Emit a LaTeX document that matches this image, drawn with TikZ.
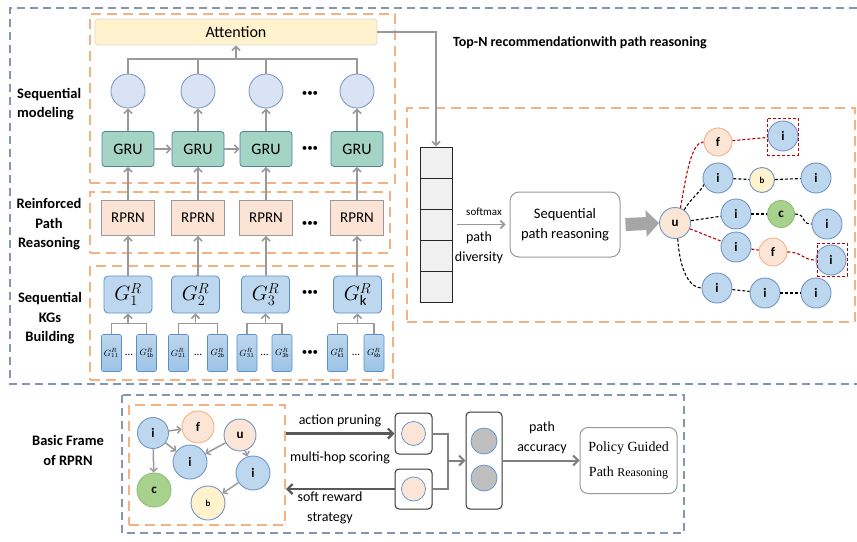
\documentclass[tikz,border=0pt]{standalone}
\usepackage{fontspec}
\setmainfont{Carlito}
\newfontfamily\tmsfont{Liberation Serif}
\usetikzlibrary{arrows.meta,calc}

\definecolor{frameblue}{HTML}{8497B0}
\definecolor{frameorange}{HTML}{F4B183}
\definecolor{linkgray}{HTML}{999999}
\definecolor{heavygray}{HTML}{595959}
\definecolor{midgray}{HTML}{7F7F7F}
\definecolor{attfill}{HTML}{FFF2CC}
\definecolor{attedge}{HTML}{D9D9D9}
\definecolor{grufill}{HTML}{A3D4C4}
\definecolor{gruedge}{HTML}{50809F}
\definecolor{rprnfill}{HTML}{FBE4D5}
\definecolor{kgfill}{HTML}{BDD7EE}
\definecolor{kgdeep}{HTML}{9DC3E6}
\definecolor{kgedge}{HTML}{5B8FC9}
\definecolor{hidfill}{HTML}{DAE3F3}
\definecolor{nodeblue}{HTML}{BDD7EE}
\definecolor{nodeblueedge}{HTML}{7094C4}
\definecolor{nodeorange}{HTML}{FBE5D6}
\definecolor{nodegreen}{HTML}{A9D18E}
\definecolor{nodegreenedge}{HTML}{8CBF6E}
\definecolor{nodeyellow}{HTML}{FFF2CC}
\definecolor{pathred}{HTML}{C00000}
\definecolor{cellfill}{HTML}{F0F0F0}
\definecolor{bigarrow}{HTML}{A6A6A6}
\definecolor{poolfill}{HTML}{BFBFBF}

\tikzset{
  bluebox/.style={draw=frameblue, line width=1.6pt, dash pattern=on 8pt off 5pt},
  orangebox/.style={rectangle, inner sep=0pt, draw=frameorange, line width=2pt, dash pattern=on 10pt off 6pt},
  link/.style={draw=linkgray, line width=1.6pt},
  linkarrow/.style={link, -{Straight Barb[length=4pt,width=8pt]}},
  hidden/.style={circle, minimum size=34pt, inner sep=0pt, fill=hidfill, draw=nodeblueedge, line width=0.8pt},
  grubox/.style={rectangle, rounded corners=3pt, minimum width=52pt, minimum height=35pt, fill=grufill, draw=gruedge, line width=0.8pt, font=\fontsize{16}{16}\selectfont},
  rprnbox/.style={rectangle, minimum width=53pt, minimum height=35pt, fill=rprnfill, draw=linkgray, line width=0.8pt, font=\fontsize{15}{15}\selectfont},
  kgbox/.style={rectangle, rounded corners=4pt, minimum width=48pt, minimum height=37pt, inner sep=0pt, fill=kgfill, draw=kgedge, line width=0.8pt, font=\fontsize{21}{21}\selectfont},
  subkg/.style={rectangle, rounded corners=2pt, minimum width=20pt, minimum height=37pt, inner sep=0pt, top color=kgfill, bottom color=kgdeep, draw=kgedge, line width=0.6pt, font=\fontsize{9}{9}\selectfont},
  bigdots/.style={inner sep=0pt, font=\fontsize{11}{11}\selectfont},
  smalldots/.style={inner sep=0pt, font=\fontsize{11}{11}\selectfont},
  rowlabel/.style={inner sep=0pt, align=center, font=\bfseries\fontsize{14.5}{19.5}\selectfont},
  plainlabel/.style={inner sep=0pt, align=center, font=\fontsize{14}{20}\selectfont},
  gnode/.style={circle, inner sep=0pt, line width=0.9pt, font=\bfseries\fontsize{13}{13}\selectfont},
  inode/.style={gnode, fill=nodeblue, draw=nodeblueedge},
  fnode/.style={gnode, fill=nodeorange, draw=frameorange},
  unode/.style={gnode, fill=nodeorange, draw=nodeblueedge},
  cnode/.style={gnode, fill=nodegreen, draw=nodegreenedge},
  bnode/.style={gnode, fill=nodeyellow, draw=nodeblueedge, font=\bfseries\fontsize{9}{9}\selectfont},
  blackpath/.style={draw=black, line width=1.1pt, dash pattern=on 3pt off 2pt},
  redpath/.style={draw=pathred, line width=1.1pt, dash pattern=on 3pt off 2pt},
  hitbox/.style={rectangle, inner sep=0pt, draw=pathred, line width=1pt, dash pattern=on 3pt off 2pt},
  cell/.style={rectangle, minimum width=32pt, minimum height=31pt, inner sep=0pt, fill=cellfill, draw=black!85, line width=1pt},
  softbox/.style={rectangle, rounded corners=9pt, draw=linkgray, line width=1pt, fill=white, align=center, inner sep=0pt},
  poolbox/.style={rectangle, rounded corners=4pt, draw=black!80, line width=1pt, fill=white, inner sep=0pt},
  poolcirc/.style={circle, inner sep=0pt, draw=kgedge, line width=0.7pt},
  thickarrow/.style={draw=heavygray, line width=2.2pt, -{Straight Barb[length=5pt,width=10pt]}},
  midlink/.style={draw=midgray, line width=2pt},
  midarrow/.style={midlink, -{Straight Barb[length=5pt,width=10pt]}},
  gedge/.style={draw=linkgray, line width=1.5pt, -{Straight Barb[length=3.5pt,width=7pt]}}
}

\begin{document}
\begin{tikzpicture}[x=1pt,y=-1pt]
\useasboundingbox (0,0) rectangle (857,541);

% ---------- outer frames ----------
\draw[bluebox] (857,8) -- (10,8) -- (10,384) -- (857,384);
\draw[bluebox] (122,395) rectangle (684,533);

\node[orangebox, minimum width=305pt, minimum height=169pt] (fseq) at (242.5,98.5) {};
\node[orangebox, minimum width=300pt, minimum height=61pt] (frl) at (240,222.5) {};
\node[orangebox, minimum width=303pt, minimum height=114pt] (fkg) at (241.5,323) {};
\node[orangebox, minimum width=448pt, minimum height=214pt] (frec) at (631,215) {};
\node[orangebox, minimum width=156pt, minimum height=120pt] (fbasic) at (207,465) {};

% ---------- row labels ----------
\node[rowlabel, align=left, anchor=west] (lblseq) at (17,104) {Sequential\\modeling};
\node[rowlabel] (lblrl) at (49,224.5) {Reinforced\\Path\\Reasoning};
\node[rowlabel] (lblkg) at (50,318.5) {Sequential\\KGs\\Building};
\node[rowlabel] (lblbasic) at (68,450.5) {Basic Frame\\of RPRN};
\node[inner sep=0pt, font=\bfseries\fontsize{14}{14}\selectfont] (title) at (580,43) {Top-N recommendationwith path reasoning};

% ---------- sequential modeling ----------
\node[rectangle, rounded corners=3pt, minimum width=282pt, minimum height=26pt, fill=attfill, draw=attedge, line width=0.8pt, font=\fontsize{16}{16}\selectfont] (att) at (236,32) {Attention};

\foreach \n/\xx in {1/128,2/198,3/266,4/357}{
  \node[hidden] (h\n) at (\xx,91) {};
  \node[grubox] (g\n) at (\xx,149) {GRU};
  \node[rprnbox] (r\n) at (\xx,218) {RPRN};
}
\node[kgbox] (k1) at (128,294.5) {$G^{R}_{1}$};
\node[kgbox] (k2) at (195.5,294.5) {$G^{R}_{2}$};
\node[kgbox] (k3) at (265.5,294.5) {$G^{R}_{3}$};
\node[kgbox] (k4) at (357.5,294.5) {$G^{R}_{\mathrm{k}}$};

\node[subkg] (s1a) at (111.5,353) {$G^{R}_{11}$};
\node[subkg] (s1b) at (146.5,353) {$G^{R}_{\mathrm{1b}}$};
\node[subkg] (s2a) at (178.5,353) {$G^{R}_{21}$};
\node[subkg] (s2b) at (217.5,353) {$G^{R}_{\mathrm{2b}}$};
\node[subkg] (s3a) at (247,353) {$G^{R}_{31}$};
\node[subkg] (s3b) at (282,353) {$G^{R}_{\mathrm{3b}}$};
\node[subkg] (s4a) at (337.5,353) {$G^{R}_{\mathrm{k1}}$};
\node[subkg] (s4b) at (374,353) {$G^{R}_{\mathrm{kb}}$};

\node[smalldots] (e1) at (129,355) {...};
\node[smalldots] (e2) at (198,355) {...};
\node[smalldots] (e3) at (264.5,355) {...};
\node[smalldots] (e4) at (356,355) {...};

\node[bigdots] (d1) at (310,94) {•••};
\node[bigdots] (d2) at (310,149) {•••};
\node[bigdots] (d3) at (310,224) {•••};
\node[bigdots] (d4) at (310,293) {•••};
\node[bigdots] (d5) at (310,353) {•••};

% hidden states feed the attention layer
\coordinate (bar) at (236,59);
\draw[link] (h1.north) -- (h1.north |- bar) -- (h4.north |- bar) -- (h4.north);
\draw[link] (h2.north) -- (h2.north |- bar);
\draw[link] (h3.north) -- (h3.north |- bar);
\draw[linkarrow] (bar) -- (att.south);

\foreach \n in {1,2,3,4}{
  \draw[linkarrow] (g\n.north) -- (h\n.south);
  \draw[linkarrow] (r\n.north) -- (g\n.south);
}
\draw[linkarrow] (g1.east) -- (g2.west);
\draw[linkarrow] (g2.east) -- (g3.west);

\foreach \n in {1,2,3,4}{
  \draw[linkarrow] (k\n.north) -- (r\n.south |- k\n.north) -- (r\n.south);
}

% sub-graphs merge into each snapshot
\foreach \n in {1,2,3,4}{
  \coordinate (m\n) at ($(k\n.south)+(0,10)$);
  \draw[link] (s\n a.north) |- (m\n) -| (s\n b.north);
  \draw[linkarrow] (m\n) -- (k\n.south);
}

% ---------- top-N recommendation ----------
\node[cell] (cell1) at (436,162.5) {};
\node[cell] (cell2) at (436,193.5) {};
\node[cell] (cell3) at (436,224.5) {};
\node[cell] (cell4) at (436,255.5) {};
\node[cell] (cell5) at (436,286.5) {};
\draw[linkarrow] (att.east) -| (cell1.north);

\node[softbox, minimum width=110pt, minimum height=65pt, font=\fontsize{14.5}{20}\selectfont] (spr) at (565,224.5) {Sequential\\path reasoning};
\draw[linkarrow] ([xshift=4pt]cell3.east) -- ([xshift=-4pt]spr.west);
\node[inner sep=0pt, font=\fontsize{11}{11}\selectfont] (lblsoft) at (484,212) {softmax};
\node[plainlabel] (lbldiv) at (479,248) {path\\diversity};

\node[unode, minimum size=31pt] (u) at (675,223) {u};
\draw[draw=bigarrow, line width=13pt, -{Triangle[length=13pt,width=26pt]}] ([xshift=5pt]spr.east) -- (u.west);

\node[fnode, minimum size=28pt] (ft) at (718,142) {f};
\node[inode, minimum size=30pt] (itop) at (783,136) {i};
\node[inode, minimum size=30pt] (i2a) at (718,178) {i};
\node[bnode, minimum size=25pt] (b2) at (762,180) {b};
\node[inode, minimum size=30pt] (i2c) at (816,178) {i};
\node[inode, minimum size=30pt] (i3a) at (736,214) {i};
\node[cnode, minimum size=27pt] (c3) at (781,214) {c};
\node[inode, minimum size=30pt] (i3c) at (827,224) {i};
\node[inode, minimum size=30pt] (i4a) at (736,247) {i};
\node[fnode, minimum size=28pt] (f4) at (773,252) {f};
\node[inode, minimum size=30pt] (i4c) at (831,260) {i};
\node[inode, minimum size=30pt] (i5a) at (717,288) {i};
\node[inode, minimum size=30pt] (i5b) at (765,293) {i};
\node[inode, minimum size=30pt] (i5c) at (816,293) {i};

\node[hitbox, minimum width=31pt, minimum height=37pt] (hit1) at (782.5,136.5) {};
\node[hitbox, minimum width=30pt, minimum height=33pt] (hit2) at (832,259.5) {};

\draw[redpath] (u.70) .. controls +(6,-35) and +(-12,0) .. (ft.west);
\draw[redpath] (ft) -- (itop);
\draw[blackpath] (u.55) .. controls +(7,-12) and +(-4,8) .. (i2a.205);
\draw[blackpath] (i2a) -- (b2);
\draw[blackpath] (b2) -- (i2c);
\draw[blackpath] (u) -- (i3a);
\draw[blackpath] (i3a) -- (c3);
\draw[blackpath] (c3.east) .. controls +(12,0) and +(-12,0) .. (i3c.west);
\draw[redpath] (u) -- (i4a);
\draw[redpath] (i4a) -- (f4);
\draw[redpath] (f4.east) .. controls +(16,0) and +(-14,0) .. (i4c.west);
\draw[blackpath] (u.-80) .. controls +(2,32) and +(-12,0) .. (i5a.west);
\draw[blackpath] (i5a) -- (i5b);
\draw[blackpath] (i5b) -- (i5c);

% ---------- basic frame of RPRN ----------
\node[inode, minimum size=31pt] (bi1) at (153,433) {i};
\node[fnode, minimum size=32pt] (bf) at (198,427) {f};
\node[unode, minimum size=32pt] (bu) at (240,435) {u};
\node[inode, minimum size=34pt] (bi2) at (190,462) {i};
\node[inode, minimum size=34pt] (bi3) at (253,473) {i};
\node[cnode, minimum size=34pt] (bc) at (154,490) {c};
\node[bnode, minimum size=34pt] (bb) at (208,503) {b};

\draw[gedge] (bi1) -- (bf);
\draw[gedge] (bi1) -- (bi2);
\draw[gedge] (bi1) -- (bc);
\draw[gedge] (bu) -- (bi2);
\draw[gedge] (bu) -- (bi3);
\draw[gedge] (bi3) -- (bb);

\node[poolbox, minimum width=37pt, minimum height=41pt] (pb1) at (413.5,433.5) {};
\node[poolbox, minimum width=37pt, minimum height=40pt] (pb2) at (413.5,489) {};
\node[poolcirc, minimum size=24pt, fill=nodeorange] (pc1) at (pb1) {};
\node[poolcirc, minimum size=24pt, fill=nodeorange] (pc2) at (pb2) {};

\draw[thickarrow] (fbasic.east |- pb1) -- (pb1.west);
\draw[thickarrow] (pb2.west) -- (fbasic.east |- pb2);
\node[plainlabel] (lblap) at (340,421) {action pruning};
\node[plainlabel] (lblmh) at (340,458) {multi-hop scoring};
\node[plainlabel] (lblsr) at (330,508) {soft reward\\strategy};

\node[poolbox, minimum width=36pt, minimum height=97pt] (tb) at (484,460.5) {};
\node[poolcirc, minimum size=26pt, fill=poolfill] (tc1) at (484,441) {};
\node[poolcirc, minimum size=26pt, fill=poolfill] (tc2) at (484,478) {};

\coordinate (join) at (448,460.5);
\draw[midlink] (pb1.east) -| (join) |- (pb2.east);
\draw[midarrow] (join) -- (tb.west);

\node[softbox, rounded corners=8pt, minimum width=97pt, minimum height=66pt, font=\tmsfont\fontsize{14}{25}\selectfont] (pol) at (628.5,460.5) {Policy Guided\\Path {\fontsize{12}{25}\selectfont Reasoning}};
\draw[midarrow] (tb.east) -- (pol.west);
\node[plainlabel] (lblacc) at (542,438) {path\\accuracy};

\end{tikzpicture}
\end{document}
